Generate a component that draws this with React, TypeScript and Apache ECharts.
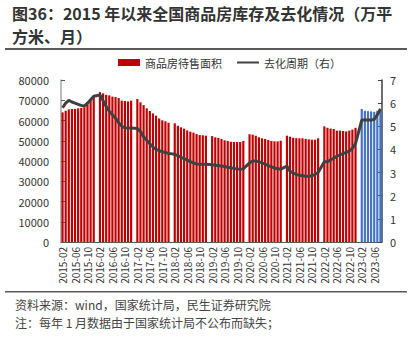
import React, { useEffect, useRef } from "react";
import * as echarts from "echarts";

// Monthly categories 2015-02 .. 2023-08 (January has no data)
const months: string[] = [];
for (let y = 2015; y <= 2023; y++) {
  for (let m = 1; m <= 12; m++) {
    if (y === 2015 && m === 1) continue;
    if (y === 2023 && m > 8) continue;
    months.push(`${y}-${m < 10 ? "0" + m : m}`);
  }
}

// 商品房待售面积 (万平方米), Feb..Dec per year, 2023 Feb..Aug
const inv2015 = [64000, 64800, 65500, 65700, 65700, 66000, 66200, 66500, 68000, 70500, 72100];
const inv2016 = [74000, 73400, 72700, 72400, 71800, 71600, 71100, 69800, 69600, 69400, 69800];
const inv2017 = [70600, 69000, 67600, 66000, 64700, 63500, 62400, 61000, 60100, 59600, 58900];
const inv2018 = [58600, 57400, 56600, 56000, 55100, 54500, 54000, 53300, 52800, 52700, 52500];
const inv2019 = [52300, 51700, 51400, 50900, 50200, 49900, 49500, 49400, 49400, 49400, 49900];
const inv2020 = [53200, 53000, 52500, 51700, 51200, 50900, 50400, 49900, 49700, 49700, 50000];
const inv2021 = [52500, 52000, 51500, 51300, 51200, 51200, 50900, 50700, 50500, 50500, 51200];
const inv2022 = [57100, 56400, 56000, 55800, 55000, 55000, 54800, 54600, 55000, 55500, 56400];
const inv2023 = [65700, 64800, 64600, 64500, 64300, 64800, 65800];

// 去化周期（右）(月)
const cyc2015 = [5.8, 6.0, 6.12, 6.05, 6.0, 5.95, 5.9, 5.87, 6.0, 6.15, 6.3];
const cyc2016 = [6.35, 6.1, 5.85, 5.65, 5.5, 5.35, 5.15, 5.0, 4.93, 4.93, 4.93];
const cyc2017 = [4.9, 4.77, 4.55, 4.4, 4.25, 4.1, 4.0, 3.95, 3.9, 3.87, 3.83];
const cyc2018 = [3.79, 3.73, 3.66, 3.6, 3.54, 3.47, 3.42, 3.37, 3.36, 3.36, 3.36];
const cyc2019 = [3.34, 3.32, 3.3, 3.28, 3.26, 3.23, 3.21, 3.18, 3.16, 3.14, 3.16];
const cyc2020 = [3.42, 3.5, 3.5, 3.47, 3.42, 3.36, 3.3, 3.25, 3.2, 3.16, 3.15];
const cyc2021 = [3.28, 3.05, 2.98, 2.92, 2.88, 2.86, 2.84, 2.84, 2.86, 2.92, 3.0];
const cyc2022 = [3.47, 3.47, 3.55, 3.62, 3.7, 3.77, 3.82, 3.87, 3.93, 4.05, 4.25];
const cyc2023 = [5.27, 5.27, 5.27, 5.27, 5.3, 5.5, 5.75];

const leftTicks = { min: 0, max: 80000, interval: 10000 };
const rightTicks = { min: 0, max: 7, interval: 1 };
const blueFrom = "2023-02";

const RED = "#C00000";
const BLUE = "#4472C4";

function withJanGaps(years: number[][]): (number | null)[] {
  const out: (number | null)[] = [];
  years.forEach((arr, k) => {
    if (k > 0) out.push(null);
    arr.forEach((v) => out.push(v));
  });
  return out;
}

const invAll = withJanGaps([inv2015, inv2016, inv2017, inv2018, inv2019, inv2020, inv2021, inv2022, inv2023]);
const cycAll = withJanGaps([cyc2015, cyc2016, cyc2017, cyc2018, cyc2019, cyc2020, cyc2021, cyc2022, cyc2023]);

export default function App() {
  const ref = useRef<HTMLDivElement>(null);
  useEffect(() => {
    if (!ref.current) return;
    const chart = echarts.init(ref.current, null, { renderer: "svg" });
    const blueIdx = months.indexOf(blueFrom);
    const barData = invAll.map((v, i) =>
      i >= blueIdx && v != null ? { value: v, itemStyle: { color: BLUE } } : v
    );
    const font = "'Noto Sans CJK SC', 'Noto Sans', sans-serif";
    chart.setOption({
      animation: false,
      textStyle: { fontFamily: font },
      grid: { left: 61, right: 34, top: 80, bottom: 95 },
      legend: {
        top: 52,
        left: 113,
        itemWidth: 22,
        itemHeight: 7,
        itemGap: 14,
        textStyle: { fontSize: 11, color: "#333", fontFamily: font },
        data: [
          { name: "商品房待售面积", icon: "rect" },
          { name: "去化周期（右）", itemStyle: { opacity: 0 } },
        ],
      },
      xAxis: {
        type: "category",
        data: months,
        boundaryGap: true,
        axisLine: { lineStyle: { color: "#595959", width: 1 } },
        axisTick: { interval: 3, alignWithLabel: true, length: 4, lineStyle: { color: "#595959" } },
        axisLabel: { interval: 3, rotate: 90, fontSize: 10, color: "#333", margin: 5, fontFamily: font },
      },
      yAxis: [
        {
          type: "value",
          ...leftTicks,
          position: "left",
          axisLine: { show: true, lineStyle: { color: "#a6a6a6", width: 1.5 } },
          axisTick: { show: true, inside: true, length: 4, lineStyle: { color: "#595959" } },
          axisLabel: {
            fontSize: 11,
            color: "#333",
            margin: 12,
            fontFamily: font,
            formatter: (v: number) => String(v),
          },
          splitLine: { show: false },
        },
        {
          type: "value",
          ...rightTicks,
          position: "right",
          axisLine: { show: true, lineStyle: { color: "#404040", width: 1.5 } },
          axisTick: { show: true, inside: true, length: 4, lineStyle: { color: "#404040" } },
          axisLabel: { fontSize: 11, color: "#333", margin: 8, fontFamily: font },
          splitLine: { show: false },
        },
      ],
      series: [
        {
          name: "商品房待售面积",
          type: "bar",
          data: barData,
          barCategoryGap: "30%",
          itemStyle: { color: RED },
        },
        {
          name: "去化周期（右）",
          type: "line",
          yAxisIndex: 1,
          data: cycAll,
          connectNulls: true,
          showSymbol: false,
          symbol: "none",
          lineStyle: { color: "#404040", width: 3 },
          itemStyle: { color: "#404040" },
        },
      ],
      graphic: [
        {
          type: "text",
          left: 12,
          top: 3,
          style: {
            text: "图36：2015 年以来全国商品房库存及去化情况（万平",
            font: `bold 16px ${font}`,
            lineHeight: 20,
            fill: "#333",
          },
        },
        {
          type: "text",
          left: 12,
          top: 26,
          style: {
            text: "方米、月）",
            font: `bold 16px ${font}`,
            lineHeight: 20,
            fill: "#333",
          },
        },
        {
          type: "rect",
          shape: { x: 5, y: 48, width: 402, height: 2 },
          style: { fill: "#595959" },
        },
        {
          type: "rect",
          shape: { x: 5, y: 291, width: 402, height: 1.5 },
          style: { fill: "#595959" },
        },
        {
          type: "text",
          left: 15,
          top: 298,
          style: {
            text: "资料来源：wind，国家统计局，民生证券研究院",
            font: `12px ${font}`,
            fill: "#444",
          },
        },
        {
          type: "text",
          left: 15,
          top: 316,
          style: {
            text: "注：每年 1 月数据由于国家统计局不公布而缺失；",
            font: `12px ${font}`,
            fill: "#444",
          },
        },
      ],
    });
    return () => chart.dispose();
  }, []);
  return (
    <div
      ref={ref}
      style={{ position: "fixed", left: 0, top: 0, width: 416, height: 337, background: "#fff" }}
    />
  );
}
